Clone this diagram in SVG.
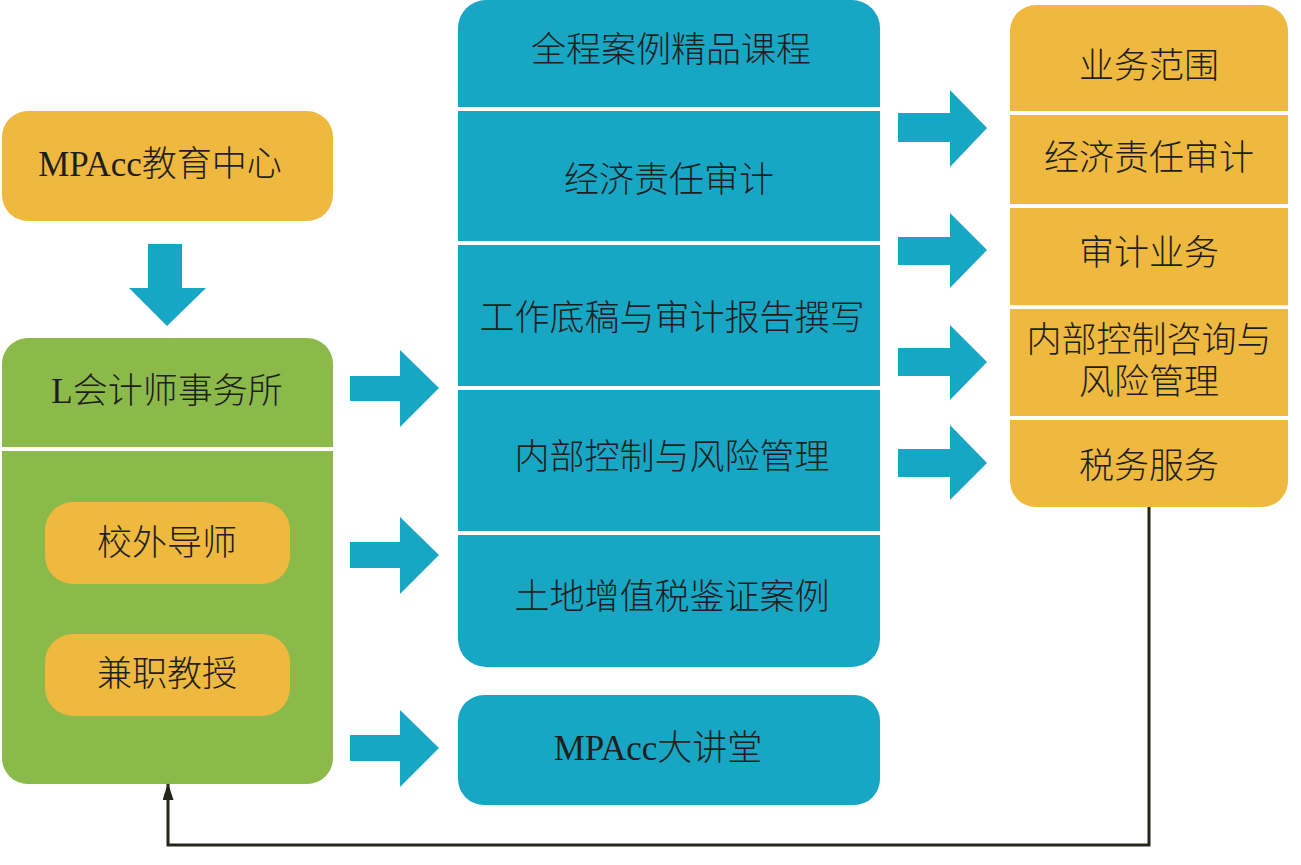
<svg xmlns="http://www.w3.org/2000/svg" width="1301" height="865" viewBox="0 0 1301 865">
<style>
.or{fill:#EFB83F}
.gr{fill:#8BBA4B}
.bl{fill:#17A6C3}
.div{stroke:#ffffff;stroke-width:4}
.ar{fill:#17A6C3}
text{font-family:"Liberation Serif","Noto Sans CJK SC",serif;font-size:35px;font-weight:300;fill:#1e1e1e;text-anchor:middle;dominant-baseline:central}
</style>
<defs>
<marker id="tri" markerWidth="17" markerHeight="11" refX="16" refY="5.5" orient="auto" markerUnits="userSpaceOnUse" viewBox="0 0 17 11">
<path d="M0,0 L17,5.5 L0,11 Z" fill="#26261a"/>
</marker>
</defs>
<rect width="1301" height="865" fill="#ffffff"/>
<g id="n-mpacc-center">
<rect class="or" x="2" y="111" width="331" height="110" rx="26"/>
<text x="160" y="164">MPAcc教育中心</text>
</g>
<g id="n-firm">
<rect class="gr" x="2" y="338" width="331" height="446" rx="26"/>
<line class="div" x1="2" y1="449" x2="333" y2="449"/>
<text x="167" y="391">L会计师事务所</text>
</g>
<g id="n-tutor">
<rect class="or" x="45" y="502" width="245" height="82" rx="28"/>
<text x="167" y="543">校外导师</text>
</g>
<g id="n-prof">
<rect class="or" x="45" y="634" width="245" height="82" rx="28"/>
<text x="167" y="674">兼职教授</text>
</g>
<g id="n-courses">
<rect class="bl" x="458" y="0" width="422" height="667" rx="28"/>
<line class="div" x1="458" y1="109" x2="880" y2="109"/>
<line class="div" x1="458" y1="243" x2="880" y2="243"/>
<line class="div" x1="458" y1="388" x2="880" y2="388"/>
<line class="div" x1="458" y1="533" x2="880" y2="533"/>
<text x="671" y="50">全程案例精品课程</text>
<text x="669" y="180">经济责任审计</text>
<text x="672" y="318">工作底稿与审计报告撰写</text>
<text x="672" y="457">内部控制与风险管理</text>
<text x="672" y="597">土地增值税鉴证案例</text>
</g>
<g id="n-lecture">
<rect class="bl" x="458" y="695" width="422" height="110" rx="26"/>
<text x="658" y="748">MPAcc大讲堂</text>
</g>
<g id="n-business">
<rect class="or" x="1010" y="5" width="278" height="502" rx="26"/>
<line class="div" x1="1010" y1="113" x2="1288" y2="113"/>
<line class="div" x1="1010" y1="206" x2="1288" y2="206"/>
<line class="div" x1="1010" y1="307" x2="1288" y2="307"/>
<line class="div" x1="1010" y1="418" x2="1288" y2="418"/>
<text x="1149" y="66">业务范围</text>
<text x="1149" y="158">经济责任审计</text>
<text x="1149" y="253">审计业务</text>
<text x="1149" y="340">内部控制咨询与</text>
<text x="1149" y="382">风险管理</text>
<text x="1149" y="466">税务服务</text>
</g>
<g id="connectors">
<path class="ar" d="M148,244 H182 V288 H206 L167,326 L129,288 H148 Z"/>
<path class="ar" d="M350,376 H400 V350 L439,388 L400,427 V401 H350 Z"/>
<path class="ar" d="M350,542 H400 V517 L439,555 L400,594 V568 H350 Z"/>
<path class="ar" d="M350,735 H400 V710 L439,748 L400,787 V761 H350 Z"/>
<path class="ar" d="M898,113 H950 V90 L987,128 L950,167 V142 H898 Z"/>
<path class="ar" d="M898,237 H950 V213 L987,250 L950,288 V265 H898 Z"/>
<path class="ar" d="M898,348 H950 V325 L987,362 L950,400 V376 H898 Z"/>
<path class="ar" d="M898,449 H950 V425 L987,463 L950,500 V477 H898 Z"/>
<path d="M1149,507 V845 H168 V784" fill="none" stroke="#26261a" stroke-width="3" marker-end="url(#tri)"/>
</g>
</svg>
